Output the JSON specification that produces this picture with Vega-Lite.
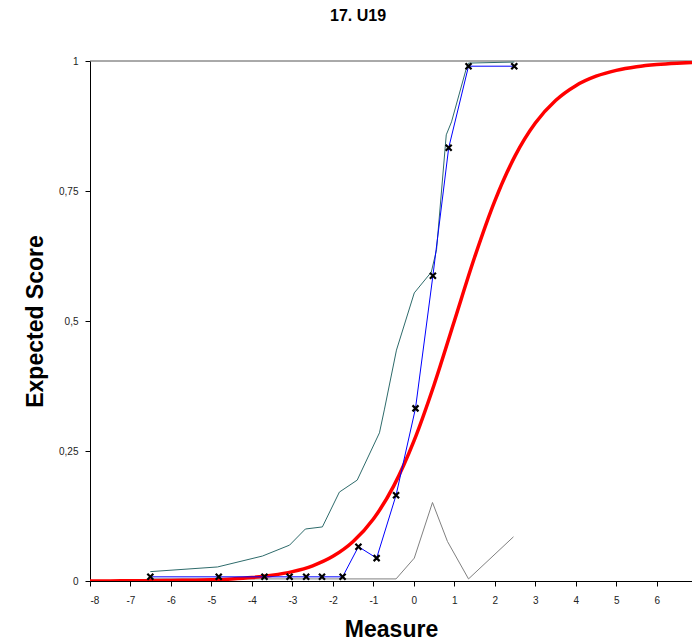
{
  "$schema": "https://vega.github.io/schema/vega-lite/v6.json",
  "autosize": {"type": "none"},
  "padding": {"left": 90, "top": 61, "right": 0, "bottom": 61},
  "width": 602,
  "height": 520,
  "background": "white",
  "config": {
    "view": {"stroke": null},
    "font": "Liberation Sans",
    "axis": {
      "domainColor": "#000000",
      "tickColor": "#000000",
      "grid": false,
      "labelFont": "Liberation Sans",
      "labelFontSize": 10,
      "labelColor": "#222222",
      "titleFont": "Liberation Sans",
      "titleFontWeight": "bold",
      "titleColor": "#000000",
      "titleFontSize": 23,
      "tickSize": 5
    }
  },
  "title": {
    "text": "17. U19",
    "font": "Liberation Sans",
    "fontSize": 16,
    "fontWeight": "bold",
    "color": "#000000",
    "anchor": "middle",
    "dx": -33,
    "offset": 32
  },
  "datasets": {
    "model": [
      {"x": -8, "y": 0.000123}, {"x": -7.5, "y": 0.000203}, {"x": -7, "y": 0.000335},
      {"x": -6.5, "y": 0.000553}, {"x": -6, "y": 0.000911}, {"x": -5.5, "y": 0.0015},
      {"x": -5, "y": 0.00247}, {"x": -4.5, "y": 0.00407}, {"x": -4, "y": 0.00669},
      {"x": -3.5, "y": 0.011}, {"x": -3, "y": 0.018}, {"x": -2.5, "y": 0.0293},
      {"x": -2, "y": 0.0474}, {"x": -1.5, "y": 0.0759}, {"x": -1, "y": 0.1192},
      {"x": -0.5, "y": 0.1824}, {"x": 0, "y": 0.2689}, {"x": 0.5, "y": 0.3775},
      {"x": 1, "y": 0.5}, {"x": 1.5, "y": 0.6225}, {"x": 2, "y": 0.7311},
      {"x": 2.5, "y": 0.8176}, {"x": 3, "y": 0.8808}, {"x": 3.5, "y": 0.9241},
      {"x": 4, "y": 0.9526}, {"x": 4.5, "y": 0.9707}, {"x": 5, "y": 0.982},
      {"x": 5.5, "y": 0.989}, {"x": 6, "y": 0.9933}, {"x": 6.5, "y": 0.9959},
      {"x": 6.87, "y": 0.9972}
    ],
    "observed": [
      {"x": -6.51, "y": 0.008}, {"x": -4.82, "y": 0.008}, {"x": -3.69, "y": 0.008},
      {"x": -3.07, "y": 0.008}, {"x": -2.66, "y": 0.008}, {"x": -2.27, "y": 0.008},
      {"x": -1.76, "y": 0.008}, {"x": -1.37, "y": 0.066}, {"x": -0.92, "y": 0.044},
      {"x": -0.44, "y": 0.165}, {"x": 0.04, "y": 0.332}, {"x": 0.47, "y": 0.587},
      {"x": 0.86, "y": 0.833}, {"x": 1.35, "y": 0.99}, {"x": 2.48, "y": 0.99}
    ],
    "upper": [
      {"x": -6.51, "y": 0.018}, {"x": -4.85, "y": 0.027}, {"x": -3.74, "y": 0.048},
      {"x": -3.07, "y": 0.069}, {"x": -2.68, "y": 0.1}, {"x": -2.26, "y": 0.104},
      {"x": -1.84, "y": 0.171}, {"x": -1.4, "y": 0.194}, {"x": -0.85, "y": 0.285},
      {"x": -0.73, "y": 0.329}, {"x": -0.43, "y": 0.444}, {"x": 0.01, "y": 0.554},
      {"x": 0.43, "y": 0.594}, {"x": 0.56, "y": 0.637}, {"x": 0.8, "y": 0.858},
      {"x": 0.93, "y": 0.883}, {"x": 1.3, "y": 0.987}, {"x": 1.35, "y": 0.996},
      {"x": 2.48, "y": 0.998}
    ],
    "lower": [
      {"x": -6.51, "y": 0.004}, {"x": -0.44, "y": 0.004}, {"x": 0.01, "y": 0.044},
      {"x": 0.46, "y": 0.151}, {"x": 0.83, "y": 0.076}, {"x": 1.35, "y": 0.004},
      {"x": 2.46, "y": 0.085}
    ]
  },
  "layer": [
    {
      "data": {"values": [{"v": 1}]},
      "mark": {"type": "rule", "color": "#555555", "strokeWidth": 1},
      "encoding": {"y": {"field": "v", "type": "quantitative", "scale": {"domain": [0, 1]}}}
    },
    {
      "data": {"name": "lower"},
      "mark": {"type": "line", "color": "#808080", "strokeWidth": 1},
      "encoding": {
        "x": {"field": "x", "type": "quantitative"},
        "y": {"field": "y", "type": "quantitative"}
      }
    },
    {
      "data": {"name": "upper"},
      "mark": {"type": "line", "color": "#2e6b6b", "strokeWidth": 1},
      "encoding": {
        "x": {"field": "x", "type": "quantitative"},
        "y": {"field": "y", "type": "quantitative"}
      }
    },
    {
      "data": {"name": "model"},
      "mark": {"type": "line", "color": "#ff0000", "strokeWidth": 3.5, "interpolate": "monotone", "clip": true},
      "encoding": {
        "x": {"field": "x", "type": "quantitative"},
        "y": {"field": "y", "type": "quantitative"}
      }
    },
    {
      "data": {"name": "observed"},
      "mark": {"type": "line", "color": "#0000ff", "strokeWidth": 1},
      "encoding": {
        "x": {"field": "x", "type": "quantitative"},
        "y": {"field": "y", "type": "quantitative"}
      }
    },
    {
      "data": {"name": "observed"},
      "mark": {"type": "point", "shape": "M-1,-1L1,1M-1,1L1,-1", "size": 36, "stroke": "#000000", "strokeWidth": 2.2, "filled": false, "opacity": 1},
      "encoding": {
        "x": {
          "field": "x", "type": "quantitative",
          "scale": {"domain": [-8, 6.87], "nice": false, "zero": false},
          "axis": {
            "title": "Measure",
            "values": [-8, -7, -6, -5, -4, -3, -2, -1, 0, 1, 2, 3, 4, 5, 6],
            "labelExpr": "toString(datum.value)",
            "labelPadding": 9,
            "titlePadding": 13
          }
        },
        "y": {
          "field": "y", "type": "quantitative",
          "scale": {"domain": [0, 1], "nice": false},
          "axis": {
            "title": "Expected Score",
            "values": [0, 0.25, 0.5, 0.75, 1],
            "labelExpr": "replace(toString(datum.value), '.', ',')",
            "labelPadding": 7,
            "titleX": -55,
            "titleY": 260,
            "titleBaseline": "middle",
            "titleAngle": 270
          }
        }
      }
    }
  ]
}
